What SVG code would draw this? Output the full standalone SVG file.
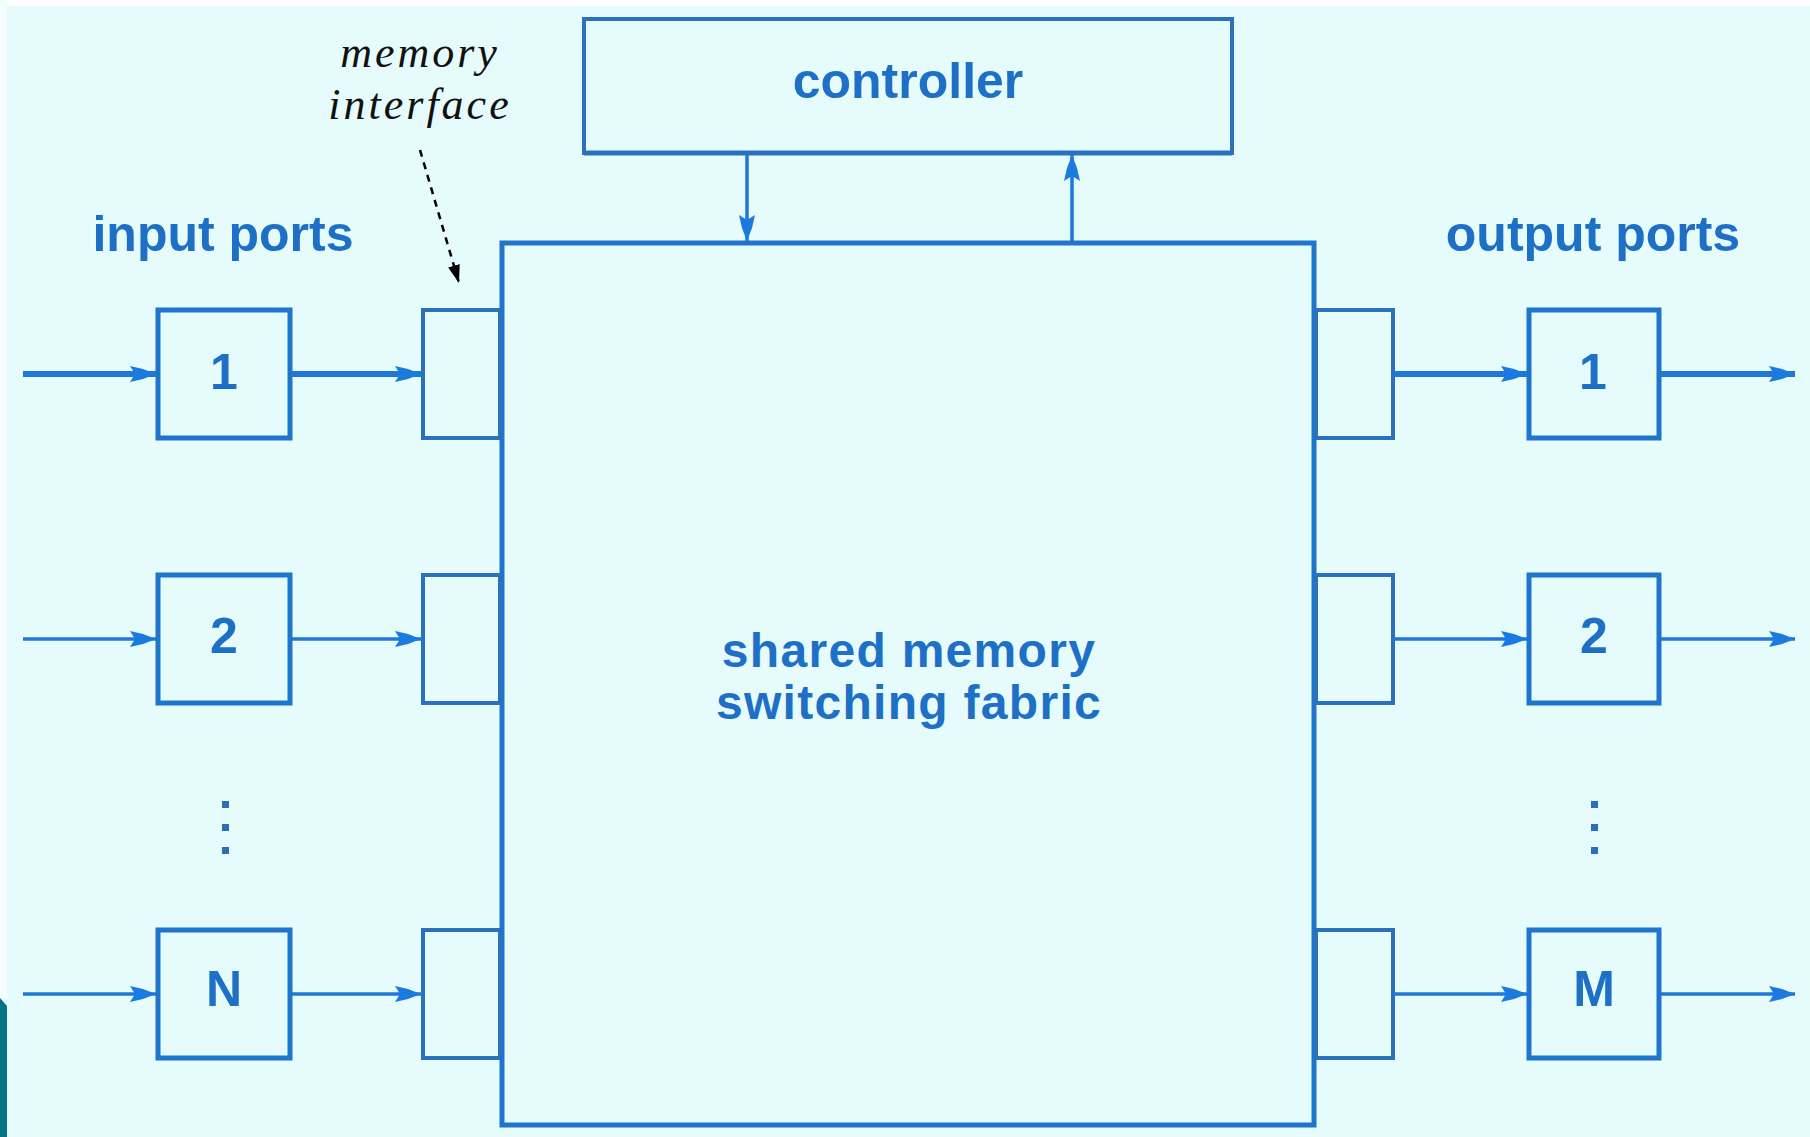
<svg xmlns="http://www.w3.org/2000/svg" width="1810" height="1137" viewBox="0 0 1810 1137">
<style>
.box{fill:none;stroke:#1f74cc;stroke-width:5}
.thin{fill:none;stroke:#2a72bd;stroke-width:4}
.lbl{font-family:"Liberation Sans",Arial,sans-serif;font-weight:bold;font-size:50px;fill:#1e6fc6;text-anchor:middle}
.mid{font-size:48px;letter-spacing:1.3px}
.it{font-family:"Liberation Serif","Times New Roman",serif;font-style:italic;font-size:44px;fill:#111;text-anchor:middle;letter-spacing:3px}
.ln{fill:none;stroke:#1f78d6;stroke-width:3.5}
.ln5{fill:none;stroke:#1f78d6;stroke-width:6}
.dot{fill:#2a6fb8}
</style>
<defs>
<marker id="ah" viewBox="0 0 26 18" refX="26" refY="9" markerWidth="26" markerHeight="18" markerUnits="userSpaceOnUse" orient="auto">
<path d="M0,1 L13,4 L26,9 L13,14 L0,17 L5,9 z" fill="#1a7ae0"/>
</marker>
<marker id="ahk2" viewBox="0 0 18 12" refX="18" refY="6" markerWidth="18" markerHeight="12" markerUnits="userSpaceOnUse" orient="auto">
<path d="M0,0 L18,6 L0,12 z" fill="#000"/>
</marker>
</defs>
<rect width="1810" height="1137" fill="#e6fbfb"/>
<rect x="0" y="0" width="1810" height="6" fill="#ffffff"/>
<rect x="0" y="0" width="7" height="1000" fill="#f4fdfd"/>
<polygon points="0,998 7,1006 7,1137 0,1137" fill="#007585"/>

<g id="controller">
<rect x="584" y="19" width="648" height="134" class="thin"/>
<line x1="584" y1="153" x2="1232" y2="153" stroke="#2a72bd" stroke-width="5"/>
<text x="908" y="98" class="lbl">controller</text>
</g>

<g id="fabric">
<rect x="502" y="243" width="812" height="882" class="box"/>
<text x="909" y="667" class="lbl mid">shared memory</text>
<text x="909" y="719" class="lbl mid">switching fabric</text>
</g>

<g id="label-input"><text x="223" y="251" class="lbl">input ports</text></g>
<g id="label-output"><text x="1593" y="251" class="lbl">output ports</text></g>
<g id="label-memif">
<text x="420" y="67" class="it">memory</text>
<text x="420" y="119" class="it">interface</text>
</g>

<g id="in1"><rect x="158" y="310" width="132" height="128" class="box"/><text x="224" y="389" class="lbl">1</text></g>
<g id="in2"><rect x="158" y="575" width="132" height="128" class="box"/><text x="224" y="653" class="lbl">2</text></g>
<g id="inN"><rect x="158" y="930" width="132" height="128" class="box"/><text x="224" y="1006" class="lbl">N</text></g>

<g id="mi1"><rect x="423" y="310" width="77" height="128" class="thin"/></g>
<g id="mi2"><rect x="423" y="575" width="77" height="128" class="thin"/></g>
<g id="miN"><rect x="423" y="930" width="77" height="128" class="thin"/></g>

<g id="mo1"><rect x="1316" y="310" width="77" height="128" class="thin"/></g>
<g id="mo2"><rect x="1316" y="575" width="77" height="128" class="thin"/></g>
<g id="moM"><rect x="1316" y="930" width="77" height="128" class="thin"/></g>

<g id="out1"><rect x="1529" y="310" width="130" height="128" class="box"/><text x="1593" y="389" class="lbl">1</text></g>
<g id="out2"><rect x="1529" y="575" width="130" height="128" class="box"/><text x="1594" y="653" class="lbl">2</text></g>
<g id="outM"><rect x="1529" y="930" width="130" height="128" class="box"/><text x="1594" y="1006" class="lbl">M</text></g>

<g id="dots-in">
<rect x="222" y="801" width="7" height="7" class="dot"/>
<rect x="222" y="824" width="7" height="7" class="dot"/>
<rect x="222" y="847" width="7" height="7" class="dot"/>
</g>
<g id="dots-out">
<rect x="1591" y="801" width="7" height="7" class="dot"/>
<rect x="1591" y="824" width="7" height="7" class="dot"/>
<rect x="1591" y="847" width="7" height="7" class="dot"/>
</g>

<g id="connectors">
<line x1="23" y1="374" x2="156" y2="374" class="ln5" marker-end="url(#ah)"/>
<line x1="292" y1="374" x2="421" y2="374" class="ln5" marker-end="url(#ah)"/>
<line x1="1394" y1="374" x2="1527" y2="374" class="ln5" marker-end="url(#ah)"/>
<line x1="1661" y1="374" x2="1795" y2="374" class="ln5" marker-end="url(#ah)"/>

<line x1="23" y1="639" x2="156" y2="639" class="ln" marker-end="url(#ah)"/>
<line x1="292" y1="639" x2="421" y2="639" class="ln" marker-end="url(#ah)"/>
<line x1="1394" y1="639" x2="1527" y2="639" class="ln" marker-end="url(#ah)"/>
<line x1="1661" y1="639" x2="1795" y2="639" class="ln" marker-end="url(#ah)"/>

<line x1="23" y1="994" x2="156" y2="994" class="ln" marker-end="url(#ah)"/>
<line x1="292" y1="994" x2="421" y2="994" class="ln" marker-end="url(#ah)"/>
<line x1="1394" y1="994" x2="1527" y2="994" class="ln" marker-end="url(#ah)"/>
<line x1="1661" y1="994" x2="1795" y2="994" class="ln" marker-end="url(#ah)"/>

<line x1="747" y1="155" x2="747" y2="241" class="ln" marker-end="url(#ah)"/>
<line x1="1072" y1="241" x2="1072" y2="155" class="ln" marker-end="url(#ah)"/>

<line x1="420" y1="150" x2="459" y2="283" stroke="#000" stroke-width="2.5" stroke-dasharray="7 6" marker-end="url(#ahk2)"/>
</g>
</svg>
